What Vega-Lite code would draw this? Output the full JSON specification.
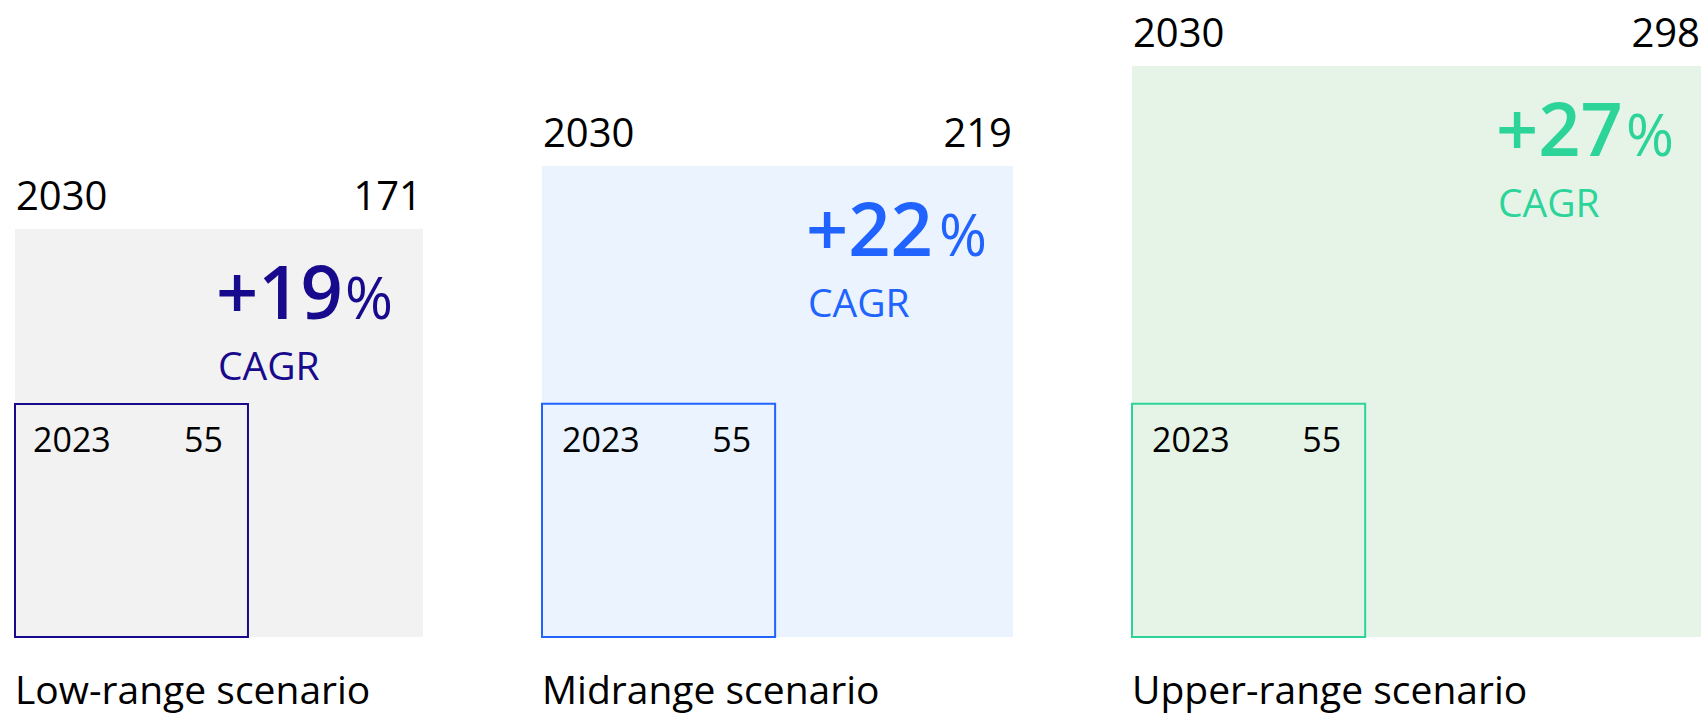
{
  "$schema": "https://vega.github.io/schema/vega-lite/v6.json",
  "padding": {"left": 14, "top": 0, "right": 0, "bottom": 3},
  "background": "white",
  "config": {"view": {"stroke": null}, "text": {"font": "Open Sans"}},
  "spacing": 118,
  "data": {"values": [
    {"scenario": "Low-range scenario", "y2023": 55, "y2030": 171, "cagr": 19},
    {"scenario": "Midrange scenario", "y2023": 55, "y2030": 219, "cagr": 22},
    {"scenario": "Upper-range scenario", "y2023": 55, "y2030": 298, "cagr": 27}
  ]},
  "hconcat": [
    {
      "width": 408, "height": 637,
      "transform": [{"filter": "datum.scenario === 'Low-range scenario'"}],
      "layer": [
        {"mark": {"type": "rect", "fill": "#F2F2F2"},
         "encoding": {
           "x": {"field": "y2030", "type": "quantitative", "scale": {"type": "pow", "exponent": 0.494, "domain": [0, 171], "nice": false}, "axis": null},
           "x2": {"datum": 0},
           "y": {"field": "y2030", "type": "quantitative", "scale": {"type": "pow", "exponent": 0.494, "domain": [0, 421.4], "nice": false}, "axis": null},
           "y2": {"datum": 0}}},
        {"mark": {"type": "rect", "fillOpacity": 0, "stroke": "#180A8C", "strokeWidth": 2},
         "encoding": {"x": {"field": "y2023", "type": "quantitative"}, "x2": {"datum": 0}, "y": {"field": "y2023", "type": "quantitative"}, "y2": {"datum": 0}}},
        {"mark": {"type": "text", "align": "left", "baseline": "alphabetic", "fontSize": 40, "dx": 1, "dy": -19, "color": "#000000"},
         "encoding": {"x": {"datum": 0, "type": "quantitative"}, "y": {"field": "y2030", "type": "quantitative"}, "text": {"value": "2030"}}},
        {"mark": {"type": "text", "align": "right", "baseline": "alphabetic", "fontSize": 40, "dx": -1, "dy": -19, "color": "#000000"},
         "encoding": {"x": {"field": "y2030", "type": "quantitative"}, "y": {"field": "y2030", "type": "quantitative"}, "text": {"field": "y2030", "type": "quantitative"}}},
        {"mark": {"type": "text", "align": "left", "baseline": "alphabetic", "fontSize": 74, "fontWeight": 600, "dx": -207, "dy": 90, "color": "#180A8C"},
         "encoding": {"x": {"field": "y2030", "type": "quantitative"}, "y": {"field": "y2030", "type": "quantitative"}, "text": {"field": "cagr", "type": "quantitative", "format": "+d"}}},
        {"mark": {"type": "text", "align": "right", "baseline": "alphabetic", "fontSize": 58, "dx": -30, "dy": 90, "color": "#180A8C"},
         "encoding": {"x": {"field": "y2030", "type": "quantitative"}, "y": {"field": "y2030", "type": "quantitative"}, "text": {"value": "%"}}},
        {"mark": {"type": "text", "align": "left", "baseline": "alphabetic", "fontSize": 39, "dx": -205, "dy": 151, "color": "#180A8C"},
         "encoding": {"x": {"field": "y2030", "type": "quantitative"}, "y": {"field": "y2030", "type": "quantitative"}, "text": {"value": "CAGR"}}},
        {"mark": {"type": "text", "align": "left", "baseline": "alphabetic", "fontSize": 34, "dx": 18, "dy": 48, "color": "#000000"},
         "encoding": {"x": {"datum": 0, "type": "quantitative"}, "y": {"field": "y2023", "type": "quantitative"}, "text": {"value": "2023"}}},
        {"mark": {"type": "text", "align": "right", "baseline": "alphabetic", "fontSize": 34, "dx": -25, "dy": 48, "color": "#000000"},
         "encoding": {"x": {"field": "y2023", "type": "quantitative"}, "y": {"field": "y2023", "type": "quantitative"}, "text": {"field": "y2023", "type": "quantitative"}}},
        {"mark": {"type": "text", "align": "left", "baseline": "alphabetic", "fontSize": 39, "dx": 0, "dy": 67, "color": "#000000"},
         "encoding": {"x": {"datum": 0, "type": "quantitative"}, "y": {"datum": 0, "type": "quantitative"}, "text": {"field": "scenario", "type": "nominal"}}}
      ]
    },
    {
      "width": 471, "height": 637,
      "transform": [{"filter": "datum.scenario === 'Midrange scenario'"}],
      "layer": [
        {"mark": {"type": "rect", "fill": "#EAF3FE"},
         "encoding": {
           "x": {"field": "y2030", "type": "quantitative", "scale": {"type": "pow", "exponent": 0.509, "domain": [0, 219], "nice": false}, "axis": null},
           "x2": {"datum": 0},
           "y": {"field": "y2030", "type": "quantitative", "scale": {"type": "pow", "exponent": 0.509, "domain": [0, 396.3], "nice": false}, "axis": null},
           "y2": {"datum": 0}}},
        {"mark": {"type": "rect", "fillOpacity": 0, "stroke": "#2163FF", "strokeWidth": 2},
         "encoding": {"x": {"field": "y2023", "type": "quantitative"}, "x2": {"datum": 0}, "y": {"field": "y2023", "type": "quantitative"}, "y2": {"datum": 0}}},
        {"mark": {"type": "text", "align": "left", "baseline": "alphabetic", "fontSize": 40, "dx": 1, "dy": -19, "color": "#000000"},
         "encoding": {"x": {"datum": 0, "type": "quantitative"}, "y": {"field": "y2030", "type": "quantitative"}, "text": {"value": "2030"}}},
        {"mark": {"type": "text", "align": "right", "baseline": "alphabetic", "fontSize": 40, "dx": -1, "dy": -19, "color": "#000000"},
         "encoding": {"x": {"field": "y2030", "type": "quantitative"}, "y": {"field": "y2030", "type": "quantitative"}, "text": {"field": "y2030", "type": "quantitative"}}},
        {"mark": {"type": "text", "align": "left", "baseline": "alphabetic", "fontSize": 74, "fontWeight": 600, "dx": -207, "dy": 90, "color": "#2163FF"},
         "encoding": {"x": {"field": "y2030", "type": "quantitative"}, "y": {"field": "y2030", "type": "quantitative"}, "text": {"field": "cagr", "type": "quantitative", "format": "+d"}}},
        {"mark": {"type": "text", "align": "right", "baseline": "alphabetic", "fontSize": 58, "dx": -26, "dy": 90, "color": "#2163FF"},
         "encoding": {"x": {"field": "y2030", "type": "quantitative"}, "y": {"field": "y2030", "type": "quantitative"}, "text": {"value": "%"}}},
        {"mark": {"type": "text", "align": "left", "baseline": "alphabetic", "fontSize": 39, "dx": -205, "dy": 151, "color": "#2163FF"},
         "encoding": {"x": {"field": "y2030", "type": "quantitative"}, "y": {"field": "y2030", "type": "quantitative"}, "text": {"value": "CAGR"}}},
        {"mark": {"type": "text", "align": "left", "baseline": "alphabetic", "fontSize": 34, "dx": 20, "dy": 48, "color": "#000000"},
         "encoding": {"x": {"datum": 0, "type": "quantitative"}, "y": {"field": "y2023", "type": "quantitative"}, "text": {"value": "2023"}}},
        {"mark": {"type": "text", "align": "right", "baseline": "alphabetic", "fontSize": 34, "dx": -24, "dy": 48, "color": "#000000"},
         "encoding": {"x": {"field": "y2023", "type": "quantitative"}, "y": {"field": "y2023", "type": "quantitative"}, "text": {"field": "y2023", "type": "quantitative"}}},
        {"mark": {"type": "text", "align": "left", "baseline": "alphabetic", "fontSize": 39, "dx": 0, "dy": 67, "color": "#000000"},
         "encoding": {"x": {"datum": 0, "type": "quantitative"}, "y": {"datum": 0, "type": "quantitative"}, "text": {"field": "scenario", "type": "nominal"}}}
      ]
    },
    {
      "width": 571, "height": 637,
      "transform": [{"filter": "datum.scenario === 'Upper-range scenario'"}],
      "layer": [
        {"mark": {"type": "rect", "fill": "#E6F4E7"},
         "encoding": {
           "x": {"field": "y2030", "type": "quantitative", "scale": {"type": "pow", "exponent": 0.53, "domain": [0, 298], "nice": false}, "axis": null},
           "x2": {"datum": 0},
           "y": {"field": "y2030", "type": "quantitative", "scale": {"type": "pow", "exponent": 0.53, "domain": [0, 366.3], "nice": false}, "axis": null},
           "y2": {"datum": 0}}},
        {"mark": {"type": "rect", "fillOpacity": 0, "stroke": "#2CD49A", "strokeWidth": 2},
         "encoding": {"x": {"field": "y2023", "type": "quantitative"}, "x2": {"datum": 0}, "y": {"field": "y2023", "type": "quantitative"}, "y2": {"datum": 0}}},
        {"mark": {"type": "text", "align": "left", "baseline": "alphabetic", "fontSize": 40, "dx": 1, "dy": -19, "color": "#000000"},
         "encoding": {"x": {"datum": 0, "type": "quantitative"}, "y": {"field": "y2030", "type": "quantitative"}, "text": {"value": "2030"}}},
        {"mark": {"type": "text", "align": "right", "baseline": "alphabetic", "fontSize": 40, "dx": -3, "dy": -19, "color": "#000000"},
         "encoding": {"x": {"field": "y2030", "type": "quantitative"}, "y": {"field": "y2030", "type": "quantitative"}, "text": {"field": "y2030", "type": "quantitative"}}},
        {"mark": {"type": "text", "align": "left", "baseline": "alphabetic", "fontSize": 74, "fontWeight": 600, "dx": -207, "dy": 90, "color": "#2CD49A"},
         "encoding": {"x": {"field": "y2030", "type": "quantitative"}, "y": {"field": "y2030", "type": "quantitative"}, "text": {"field": "cagr", "type": "quantitative", "format": "+d"}}},
        {"mark": {"type": "text", "align": "right", "baseline": "alphabetic", "fontSize": 58, "dx": -29, "dy": 90, "color": "#2CD49A"},
         "encoding": {"x": {"field": "y2030", "type": "quantitative"}, "y": {"field": "y2030", "type": "quantitative"}, "text": {"value": "%"}}},
        {"mark": {"type": "text", "align": "left", "baseline": "alphabetic", "fontSize": 39, "dx": -205, "dy": 151, "color": "#2CD49A"},
         "encoding": {"x": {"field": "y2030", "type": "quantitative"}, "y": {"field": "y2030", "type": "quantitative"}, "text": {"value": "CAGR"}}},
        {"mark": {"type": "text", "align": "left", "baseline": "alphabetic", "fontSize": 34, "dx": 20, "dy": 48, "color": "#000000"},
         "encoding": {"x": {"datum": 0, "type": "quantitative"}, "y": {"field": "y2023", "type": "quantitative"}, "text": {"value": "2023"}}},
        {"mark": {"type": "text", "align": "right", "baseline": "alphabetic", "fontSize": 34, "dx": -24, "dy": 48, "color": "#000000"},
         "encoding": {"x": {"field": "y2023", "type": "quantitative"}, "y": {"field": "y2023", "type": "quantitative"}, "text": {"field": "y2023", "type": "quantitative"}}},
        {"mark": {"type": "text", "align": "left", "baseline": "alphabetic", "fontSize": 39, "dx": 0, "dy": 67, "color": "#000000"},
         "encoding": {"x": {"datum": 0, "type": "quantitative"}, "y": {"datum": 0, "type": "quantitative"}, "text": {"field": "scenario", "type": "nominal"}}}
      ]
    }
  ]
}
